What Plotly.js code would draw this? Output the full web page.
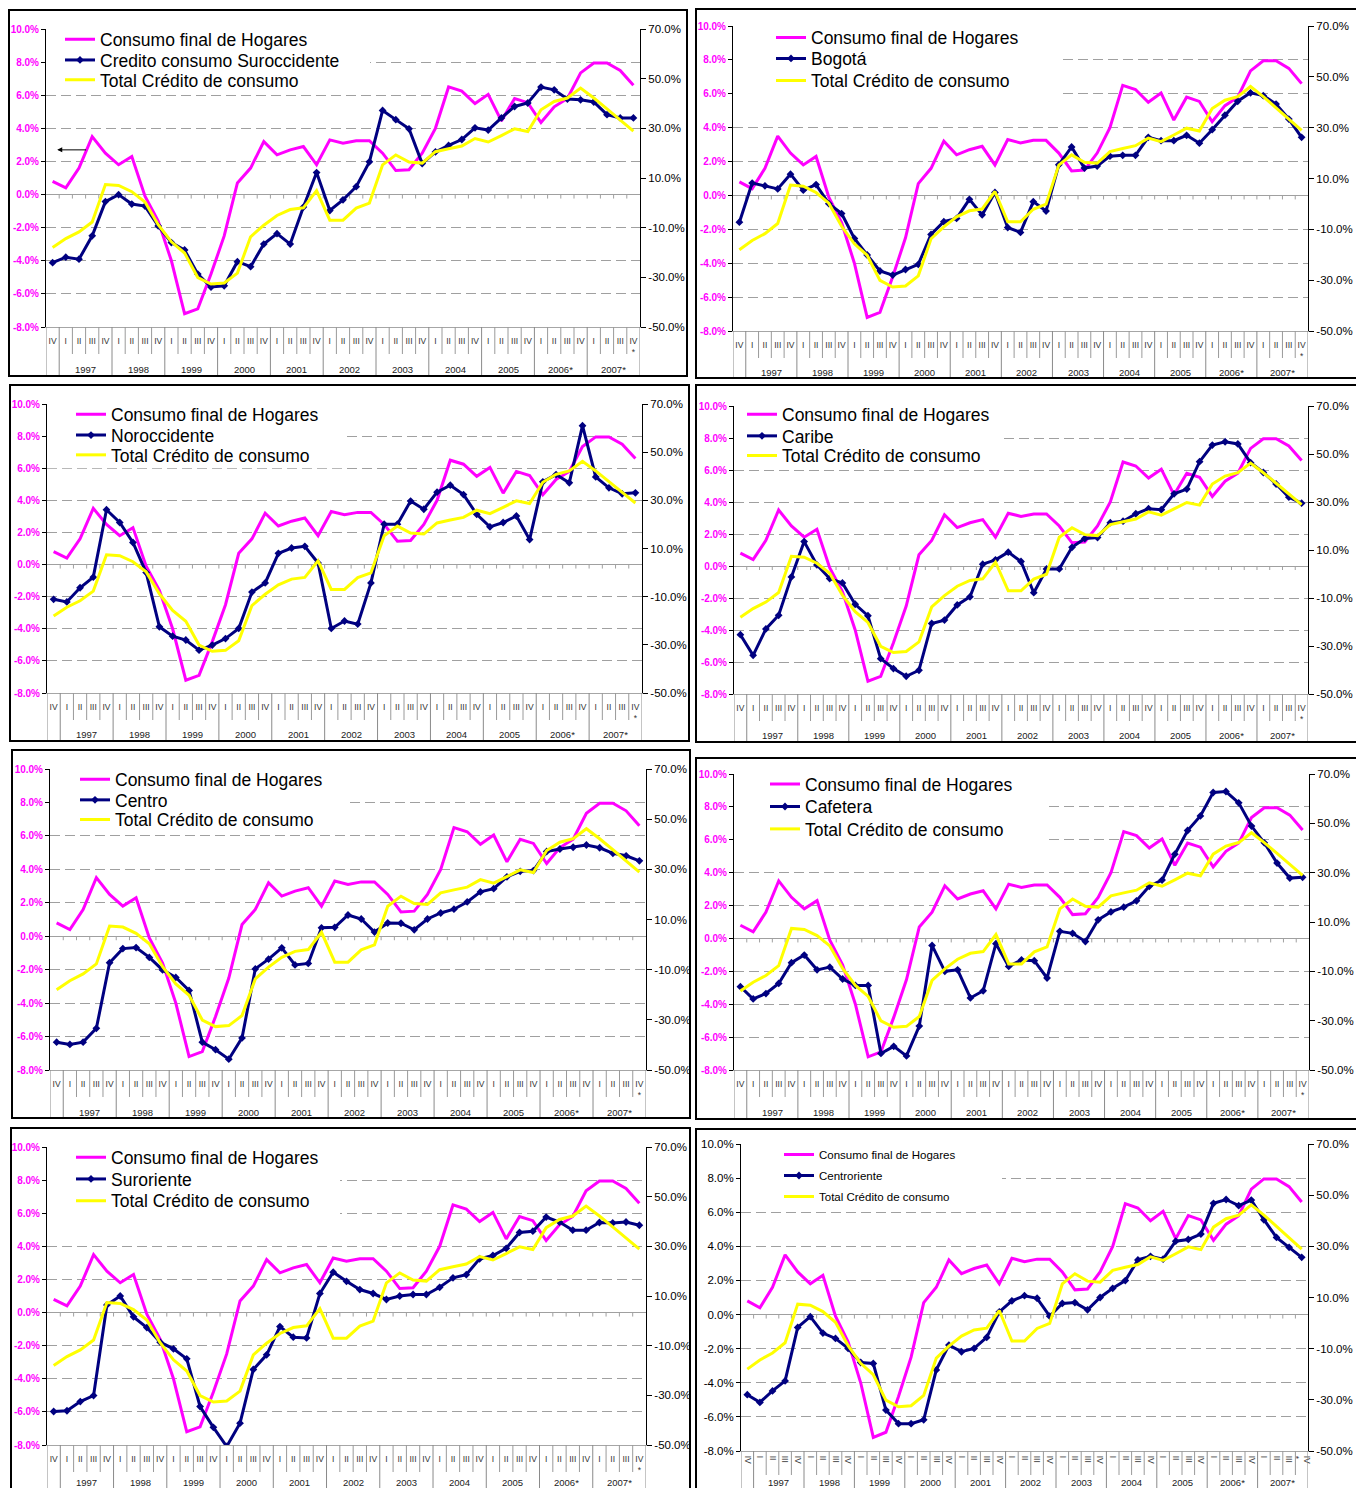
<!DOCTYPE html>
<html>
<head>
<meta charset="utf-8">
<script src="https://cdn.plot.ly/plotly-3.0.1.min.js"></script>
<style>
html, body { margin: 0; padding: 0; background: #fff; }
body { width: 1356px; height: 1488px; overflow: hidden; position: relative; }
.plot { position: absolute; }
.frame { position: absolute; border: 2px solid #000; box-sizing: border-box; pointer-events: none; }
</style>
</head>
<body>
<script>
// ---------- categories ----------
const quarterLabels = ["IV",
  "I","II","III","IV", "I","II","III","IV", "I","II","III","IV", "I","II","III","IV",
  "I","II","III","IV", "I","II","III","IV", "I","II","III","IV", "I","II","III","IV",
  "I","II","III","IV", "I","II","III","IV", "I","II","III","IV<br>*"];
const quarterYears = ["",
  "1997","1997","1997","1997", "1998","1998","1998","1998", "1999","1999","1999","1999",
  "2000","2000","2000","2000", "2001","2001","2001","2001", "2002","2002","2002","2002",
  "2003","2003","2003","2003", "2004","2004","2004","2004", "2005","2005","2005","2005",
  "2006*","2006*","2006*","2006*", "2007*","2007*","2007*","2007*"];

// ---------- series (left axis, %) ----------
const consumoHogares = [0.8, 0.4, 1.6, 3.5, 2.5, 1.8, 2.3, -0.1, -1.6, -4.0, -7.2, -6.9, -4.8, -2.5, 0.7,
  1.6, 3.2, 2.4, 2.7, 2.9, 1.8, 3.3, 3.1, 3.25, 3.25, 2.5, 1.45, 1.5, 2.5, 4.0, 6.5, 6.25, 5.5, 6.05,
  4.45, 5.8, 5.55, 4.35, 5.3, 5.8, 7.35, 7.95, 7.95, 7.5, 6.6];

// ---------- series (right axis, %) ----------
const totalCredito = [-18.0, -14.4, -11.7, -7.7, 7.4, 7.0, 4.5, 0.3, -8.8, -15.7, -20.2, -30.1, -32.7, -32.3,
  -28.3, -13.7, -9.0, -5.1, -2.7, -2.0, 4.9, -7.0, -7.0, -2.1, -0.1, 15.3, 19.3, 16.4, 16.0, 20.6, 21.8,
  22.9, 25.9, 24.5, 27.1, 29.8, 28.7, 37.5, 40.8, 42.2, 46.2, 42.2, 37.8, 33.5, 28.9];
const suroccidente = [-24.1, -21.9, -22.7, -13.3, 0.5, 3.3, -0.5, -1.3, -9.3, -16.0, -19.0, -28.7, -33.9,
  -33.4, -23.7, -25.7, -16.6, -12.4, -16.6, -1.7, 12.2, -3.1, 1.2, 6.5, 16.5, 37.2, 33.5, 29.8, 15.8,
  20.5, 23.1, 25.5, 30.2, 29.3, 34.2, 38.8, 40.2, 46.6, 45.5, 41.8, 41.5, 40.6, 35.5, 34.2, 34.2];
const bogota = [-7.2, 8.2, 7.1, 5.9, 11.7, 5.4, 7.6, 0.1, -3.8, -13.6, -20.1, -26.4, -28.0, -25.8, -23.8,
  -12.0, -7.0, -5.7, 1.8, -4.3, 4.5, -9.3, -11.2, 0.9, -2.8, 15.4, 22.4, 14.1, 14.9, 18.8, 19.1, 19.1,
  26.2, 24.9, 24.9, 27.0, 23.9, 29.2, 34.9, 40.4, 43.7, 42.6, 39.3, 33.4, 26.2];
const noroccidente = [-11.1, -12.2, -6.3, -1.9, 26.1, 20.8, 12.5, 0.0, -22.5, -26.4, -28.0, -32.2, -30.1,
  -27.4, -23.2, -8.1, -4.3, 8.0, 10.2, 10.9, 4.0, -23.2, -20.1, -21.4, -4.3, 20.1, 20.1, 29.7, 26.3,
  33.4, 36.3, 32.4, 24.2, 19.0, 20.8, 23.5, 13.7, 37.7, 40.7, 37.3, 61.0, 39.7, 35.2, 32.7, 33.1];
const caribe = [-25.3, -33.9, -22.9, -17.2, -1.2, 13.5, 3.8, -1.9, -3.7, -12.6, -17.4, -35.3, -39.4, -42.6,
  -40.1, -20.6, -19.2, -12.9, -9.5, 4.1, 5.9, 9.1, 5.2, -7.8, 2.1, 2.1, 11.1, 14.8, 15.2, 21.4, 22.0,
  25.1, 27.2, 26.8, 33.4, 35.4, 46.8, 53.7, 55.1, 54.2, 46.4, 42.3, 37.5, 32.0, 29.5];
const centro = [-38.9, -39.8, -38.9, -33.4, -7.2, -1.6, -1.2, -5.1, -10.1, -13.1, -18.3, -38.9, -41.9,
  -45.7, -37.2, -9.7, -5.8, -1.3, -8.1, -7.5, 6.7, 6.9, 11.8, 10.2, 5.0, 8.6, 8.5, 5.9, 10.2, 12.6,
  14.1, 17.0, 21.0, 22.3, 27.0, 29.2, 29.5, 37.1, 38.1, 38.8, 39.7, 38.6, 36.4, 35.4, 33.4];
const cafetera = [-16.2, -21.2, -19.0, -14.9, -6.5, -3.4, -9.4, -8.3, -13.1, -15.7, -15.7, -43.3, -40.4,
  -44.3, -32.2, 0.5, -10.0, -9.4, -20.8, -17.9, 1.2, -8.0, -5.4, -5.7, -12.7, 6.2, 5.4, 2.1, 10.9,
  14.1, 16.0, 18.6, 24.5, 27.0, 37.5, 47.1, 53.0, 62.5, 62.9, 58.3, 48.9, 42.1, 33.9, 27.8, 28.1];
const suroriente = [-36.5, -36.2, -32.5, -30.1, 6.4, 10.0, 1.6, -2.7, -8.6, -11.3, -15.3, -34.5, -42.9,
  -50.6, -41.2, -19.6, -13.7, -2.3, -6.6, -6.9, 11.0, 19.6, 15.9, 12.6, 11.0, 8.6, 10.0, 10.6, 10.6,
  13.5, 17.3, 18.6, 25.0, 26.3, 29.2, 35.6, 36.1, 41.8, 39.8, 36.5, 36.5, 39.6, 39.4, 39.8, 38.5];
const centroriente = [-28.0, -31.0, -26.5, -22.6, -1.7, 2.5, -3.9, -6.0, -9.9, -15.4, -15.8, -34.0, -39.3,
  -39.3, -37.8, -18.3, -8.6, -11.2, -9.9, -5.6, 4.4, 8.7, 10.7, 9.7, 2.7, 7.7, 8.0, 5.2, 10.0, 13.6,
  16.6, 24.7, 26.1, 25.0, 32.0, 32.7, 34.8, 46.8, 48.3, 45.9, 48.1, 40.4, 33.5, 29.6, 25.7];

// ---------- tick labels / names ----------
const leftTickVals = [-8, -6, -4, -2, 0, 2, 4, 6, 8, 10];
const leftTickText = ["-8.0%", "-6.0%", "-4.0%", "-2.0%", "0.0%", "2.0%", "4.0%", "6.0%", "8.0%", "10.0%"];
const rightTickVals = [-50, -30, -10, 10, 30, 50, 70];
const rightTickText = ["-50.0%", "-30.0%", "-10.0%", "10.0%", "30.0%", "50.0%", "70.0%"];
const hogaresName = "Consumo final de Hogares";
const totalName = "Total Crédito de consumo";
const arrowMark = {from: 2.65, to: 0.35, level: 2.7};

// ---------- panel layout ----------
const panels = [
  {name: "Credito consumo Suroccidente", data: suroccidente, frame: [8, 9, 688, 377], plot: [46, 25, 640, 327],
   text: 100, rows: [37, 58, 78], box: 370, hideTop: false, arrow: true, yearShift: 42},
  {name: "Bogotá", data: bogota, frame: [695, 8, 1372, 379], plot: [733, 25, 1308, 331],
   text: 811, rows: [39, 60, 82], box: 1062, hideTop: false, yearShift: 41},
  {name: "Noroccidente", data: noroccidente, frame: [9, 384, 690, 742], plot: [47, 401, 642, 693],
   text: 111, rows: [413, 434, 454], box: 342, hideTop: false, yearShift: 41},
  {name: "Caribe", data: caribe, frame: [695, 384, 1372, 743], plot: [734, 401, 1308, 694],
   text: 782, rows: [411, 433, 453], box: 1004, hideTop: true, yearShift: 41},
  {name: "Centro", data: centro, frame: [11, 749, 691, 1119], plot: [50, 764, 646, 1070],
   text: 115, rows: [776, 797, 817], box: 347, hideTop: false, yearShift: 42},
  {name: "Cafetera", data: cafetera, frame: [695, 757, 1372, 1120], plot: [734, 766, 1309, 1070],
   text: 805, rows: [778, 801, 824], box: 1045, hideTop: true, yearShift: 42},
  {name: "Suroriente", data: suroriente, frame: [10, 1127, 691, 1510], plot: [47, 1143, 646, 1445],
   text: 111, rows: [1155, 1177, 1199], box: 340, hideTop: false, yearShift: 37},
  {name: "Centroriente", data: centroriente, frame: [695, 1128, 1372, 1510], plot: [741, 1144, 1308, 1451],
   text: 819, rows: [1156, 1177, 1198], box: 1002, hideTop: false, small: true, yearShift: 31}
];

const FONT = "'Liberation Sans', Arial, Helvetica, sans-serif";
const n = quarterLabels.length;
const xIndex = quarterLabels.map((_, i) => i);

panels.forEach((p) => {
  const [fl, ft, fr, fb] = p.frame;
  const [pl, pt, pr, pb] = p.plot;
  const W = fr - fl, H = fb - ft, plotW = pr - pl, plotH = pb - pt;

  const host = document.createElement('div');
  host.className = 'plot';
  Object.assign(host.style, {left: fl + 'px', top: ft + 'px', width: W + 'px', height: H + 'px'});
  document.body.appendChild(host);
  const frame = document.createElement('div');
  frame.className = 'frame';
  Object.assign(frame.style, {left: fl + 'px', top: ft + 'px', width: W + 'px', height: H + 'px'});
  document.body.appendChild(frame);

  const legFont = {family: FONT, size: p.small ? 11.5 : 17.5, color: '#000'};
  const traces = [
    {type: 'scatter', mode: 'lines', x: xIndex, y: consumoHogares, name: hogaresName, yaxis: 'y',
     line: {color: '#FF00FF', width: 3}, legend: 'legend'},
    {type: 'scatter', mode: 'lines+markers', x: xIndex, y: p.data, name: p.name, yaxis: 'y2',
     line: {color: '#000080', width: 3}, marker: {symbol: 'diamond', size: 6, color: '#000080'}, legend: 'legend2'},
    {type: 'scatter', mode: 'lines', x: xIndex, y: totalCredito, name: totalName, yaxis: 'y2',
     line: {color: '#FFFF00', width: 3}, legend: 'legend3'}
  ];

  const shapes = [];
  // white legend box hiding gridlines
  shapes.push({type: 'rect', xref: 'x', yref: 'y', layer: 'between',
    x0: -0.5, x1: -0.5 + (p.box - pl) / plotW * n,
    y0: 10 - (p.rows[2] + 12 - pt) / plotH * 18, y1: p.hideTop ? 10.5 : 9.94,
    fillcolor: '#fff', line: {width: 0}});
  const longLen = Math.min(fb - pb - 2, 60);
  const shortLen = p.small ? 24 : 27;
  for (let i = 0; i <= n; i++) {
    const isYear = i === 0 || i === n || quarterYears[i] !== quarterYears[i - 1];
    shapes.push({type: 'line', xref: 'x', yref: 'paper', x0: i - 0.5, x1: i - 0.5,
      ysizemode: 'pixel', yanchor: 0, y0: 0, y1: -(isYear ? longLen : shortLen),
      line: {color: isYear ? '#8a8a8a' : '#9a9a9a', width: 1}});
    if (i > 0 && i < n) {
      shapes.push({type: 'line', xref: 'x', yref: 'y', layer: 'between', x0: i - 0.5, x1: i - 0.5,
        ysizemode: 'pixel', yanchor: 0, y0: 0, y1: -4, line: {color: '#a0a0a0', width: 1}});
    }
  }

  const annotations = [];
  const groups = [];
  quarterYears.forEach((yr, i) => {
    if (!yr) return;
    let g = groups.find(q => q.label === yr);
    if (!g) { g = {label: yr, first: i, last: i}; groups.push(g); } else { g.last = i; }
  });
  groups.forEach(g => annotations.push({xref: 'x', yref: 'paper', x: (g.first + g.last) / 2, y: 0,
    yanchor: 'middle', yshift: -p.yearShift, text: g.label, showarrow: false,
    font: {family: FONT, size: 9.5, color: '#222'}}));
  if (p.arrow) {
    annotations.push({xref: 'x', yref: 'y', x: arrowMark.to, y: arrowMark.level,
      axref: 'x', ayref: 'y', ax: arrowMark.from, ay: arrowMark.level, text: '',
      showarrow: true, arrowhead: 2, arrowsize: 1, arrowwidth: 1, arrowcolor: '#000'});
  }

  const legendX = (p.text - 40 - pl) / plotW;
  const mkLegend = (row) => ({x: legendX, xanchor: 'left', y: 1 - (p.rows[row] - 1.5 - pt) / plotH, yanchor: 'middle',
    bgcolor: 'rgba(0,0,0,0)', borderwidth: 0, font: legFont, itemwidth: 30});

  const layout = {
    width: W, height: H, autosize: false,
    margin: {l: pl - fl, r: fr - pr, t: pt - ft, b: fb - pb, pad: 0},
    paper_bgcolor: '#fff', plot_bgcolor: '#fff',
    font: {family: FONT, color: '#000'},
    showlegend: true, hovermode: false,
    legend: mkLegend(0), legend2: mkLegend(1), legend3: mkLegend(2),
    xaxis: {range: [-0.5, n - 0.5], tickmode: 'array', tickvals: xIndex, ticktext: quarterLabels,
      tickangle: p.small ? 90 : 0, tickfont: {family: FONT, size: 8.5, color: '#333'},
      ticks: 'outside', ticklen: p.small ? 2 : 6, tickcolor: 'rgba(0,0,0,0)',
      showline: true, linecolor: '#a6a6a6', linewidth: 1, showgrid: false, zeroline: false, fixedrange: true},
    yaxis: {range: [-8, 10], tickmode: 'array', tickvals: leftTickVals, ticktext: leftTickText,
      tickfont: p.small ? {family: FONT, size: 11.5, color: '#000'} : {family: FONT, size: 10, color: '#FF00FF', weight: 'bold'},
      ticks: 'outside', ticklen: 4, tickcolor: '#000', showline: true, linecolor: '#000', linewidth: 1,
      showgrid: true, gridcolor: '#a0a0a0', gridwidth: 1, griddash: '10px,5px',
      zeroline: true, zerolinecolor: '#a0a0a0', zerolinewidth: 1, fixedrange: true},
    yaxis2: {overlaying: 'y', side: 'right', range: [-50, 70], tickmode: 'array', tickvals: rightTickVals,
      ticktext: rightTickText, tickfont: {family: FONT, size: 11.5, color: '#000'},
      ticks: 'outside', ticklen: 5, tickcolor: '#000', showline: true, linecolor: '#000', linewidth: 1,
      showgrid: false, zeroline: false, fixedrange: true},
    shapes: shapes, annotations: annotations
  };
  Plotly.newPlot(host, traces, layout, {staticPlot: true, displayModeBar: false});
});
</script>
</body>
</html>
